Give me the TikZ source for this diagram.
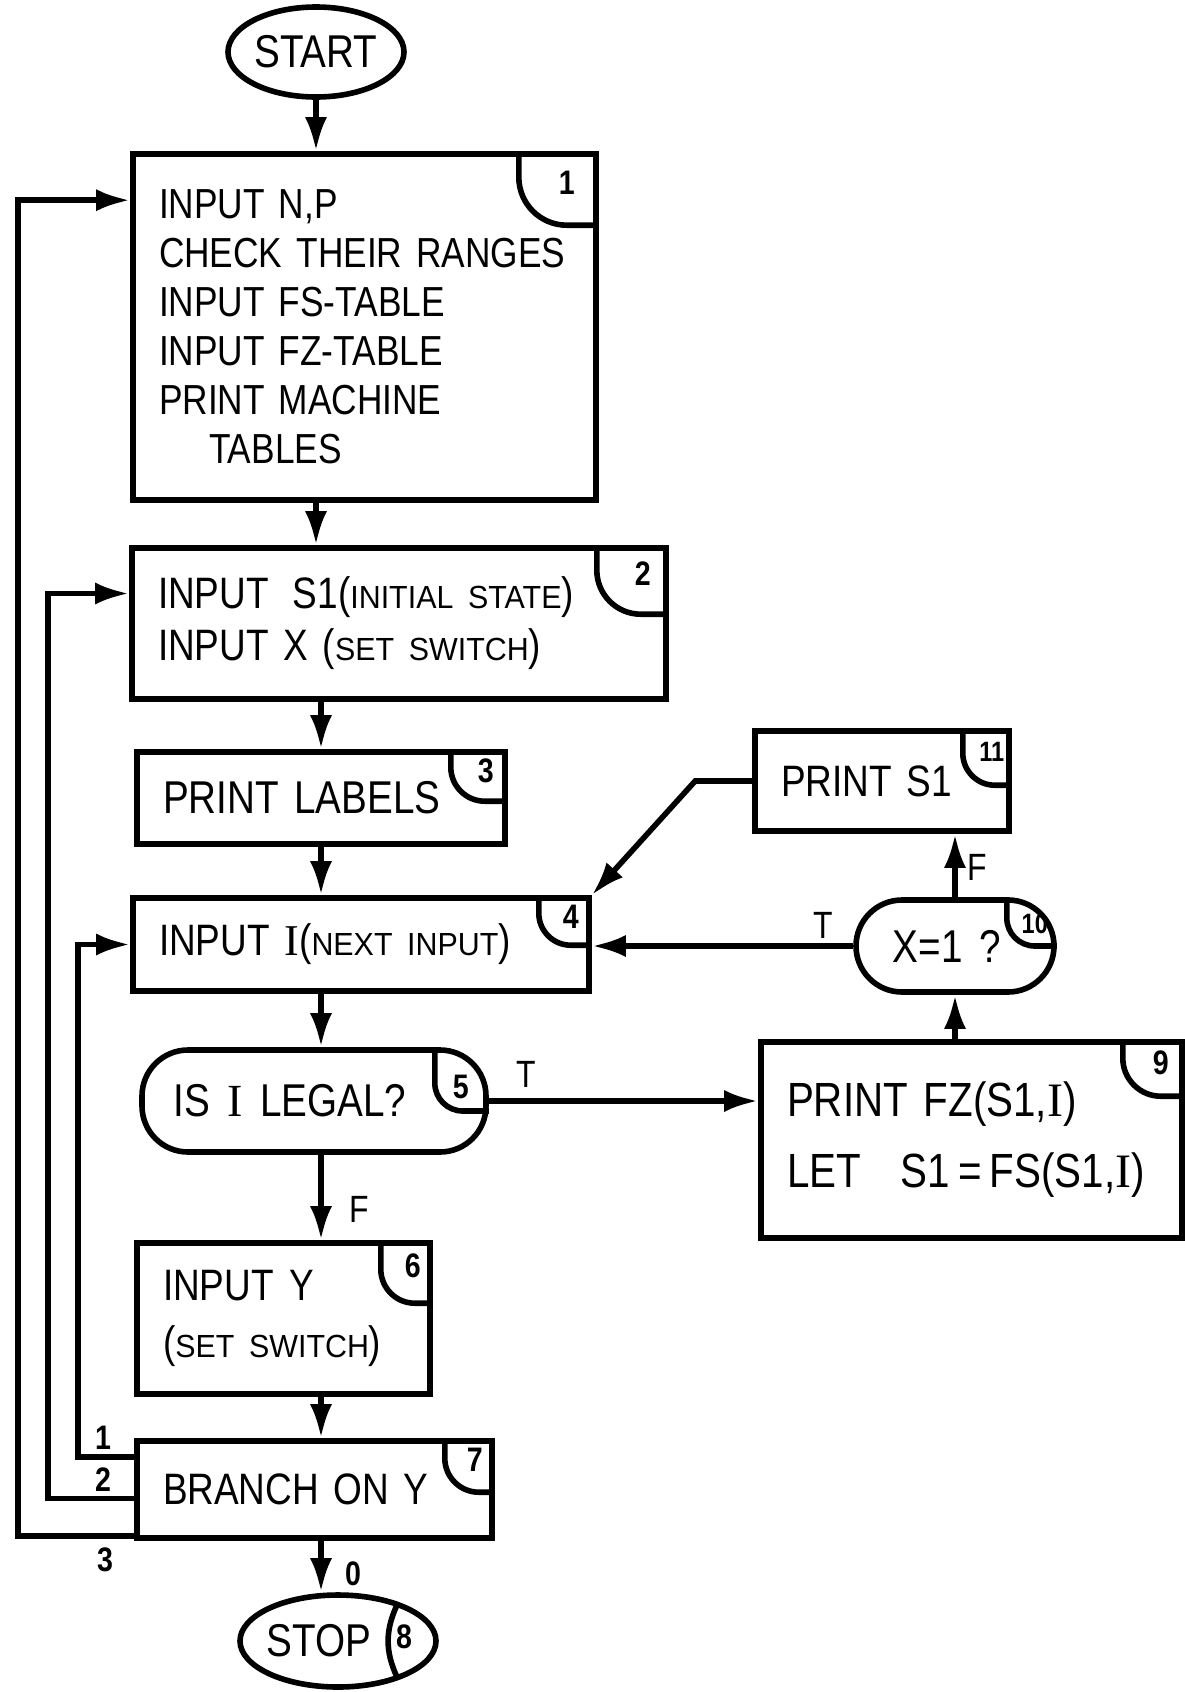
\documentclass[tikz,border=0pt]{standalone}
\usepackage{fontspec}
\setmainfont{Liberation Sans}[FakeStretch=0.84, WordSpace=1.6]
\newfontfamily\varfont{Liberation Serif}
\newfontfamily\lowfont{Liberation Sans}[FakeStretch=0.95, WordSpace=1.6]
\usetikzlibrary{arrows.meta,positioning,shapes.geometric,calc}

\newcommand{\lowcaps}[1]{{\lowfont\fontsize{16pt}{16pt}\selectfont #1}}
\newcommand{\varI}{{\varfont I}}

\begin{document}
\begin{tikzpicture}[x=0.5pt, y=0.5pt,
  procbox/.style={rectangle, draw, line width=2.8pt, align=left,
                  inner xsep=13pt, inner ysep=0pt,
                  font=\fontsize{22pt}{26pt}\selectfont},
  testbox/.style={rectangle, draw, line width=2.8pt, rounded corners=23pt,
                  align=center, inner sep=0pt,
                  font=\fontsize{23pt}{26pt}\selectfont},
  termnode/.style={ellipse, draw, line width=2.8pt, inner sep=0pt,
                   font=\fontsize{23pt}{26pt}\selectfont},
  tagline/.style={line width=2.8pt},
  tagnum/.style={font=\fontsize{17pt}{17pt}\selectfont\bfseries, inner sep=0pt},
  flowlbl/.style={font=\fontsize{19pt}{19pt}\selectfont, inner sep=0pt},
  brlbl/.style={font=\fontsize{17pt}{17pt}\selectfont\bfseries, inner sep=0pt},
  arr/.style={-{Latex[length=17pt,width=11pt]}, line width=2.8pt}
]
\useasboundingbox (0,0) rectangle (1184,-1692);

% Main column
\node[termnode, minimum width=88pt, minimum height=45pt] (start) at (316,-52) {START};
\node[procbox, text width=205.5pt, minimum height=173pt,
      font=\fontsize{21pt}{24.5pt}\selectfont] (b1) at (364.5,-327)
  {INPUT N,P\\CHECK THEIR RANGES\\INPUT FS-TABLE\\INPUT FZ-TABLE\\PRINT MACHINE\\\hspace*{25pt}TABLES};
\node[procbox, text width=241pt, minimum height=75.5pt] (b2) at (399,-623.5)
  {INPUT\hspace{12pt}S1(\lowcaps{INITIAL STATE})\\INPUT X (\lowcaps{SET SWITCH})};
\node[procbox, text width=158pt, minimum height=46pt,
      font=\fontsize{23pt}{26pt}\selectfont] (b3) at (321,-798) {PRINT LABELS};
\node[procbox, text width=202pt, minimum height=46.5pt] (b4) at (361,-944.5)
  {INPUT \varI(\lowcaps{NEXT INPUT})};
\node[testbox, minimum width=172pt, minimum height=51pt] (d5) at (314,-1101)
  {IS \varI{} LEGAL?\hspace{24pt}};
\node[procbox, text width=120.5pt, minimum height=75.5pt,
      font=\fontsize{22pt}{28.5pt}\selectfont] (b6) at (283.5,-1318.5)
  {INPUT\hspace{8pt}Y\\(\lowcaps{SET SWITCH})};
\node[procbox, text width=151.5pt, minimum height=48.5pt] (b7) at (314.5,-1489.5) {BRANCH ON Y};
\node[termnode, minimum width=98pt, minimum height=46pt] (stop) at (338,-1641)
  {\makebox[0pt]{STOP\hspace{19pt}}};

% Right column
\node[procbox, text width=184.5pt, minimum height=98pt,
      font=\fontsize{24pt}{35.5pt}\selectfont] (b9) at (971.5,-1140)
  {PRINT FZ(S1,\varI)\\LET\hspace{20pt}S1\,=\,FS(S1,\varI)\\[4pt]};
\node[testbox, minimum width=99pt, minimum height=46pt] (d10) at (955,-946) {X=1 ?\hspace{8pt}};
\node[procbox, text width=101pt, minimum height=50pt] (b11) at (882,-781) {PRINT S1};

% Corner tags
\draw[tagline, rounded corners=24pt] ([xshift=-40pt]b1.north east) |- ([yshift=-37pt]b1.north east);
\node[tagnum] (t1) at ([xshift=-16pt,yshift=-16pt]b1.north east) {1};
\draw[tagline, rounded corners=22pt] ([xshift=-36pt]b2.north east) |- ([yshift=-34.5pt]b2.north east);
\node[tagnum] (t2) at ([xshift=-13pt,yshift=-14pt]b2.north east) {2};
\draw[tagline, rounded corners=17pt] ([xshift=-28.5pt]b3.north east) |- ([yshift=-26pt]b3.north east);
\node[tagnum] (t3) at ([xshift=-11pt,yshift=-11pt]b3.north east) {3};
\draw[tagline, rounded corners=16pt] ([xshift=-26.5pt]b4.north east) |- ([yshift=-25pt]b4.north east);
\node[tagnum] (t4) at ([xshift=-10.5pt,yshift=-11pt]b4.north east) {4};
\draw[tagline, rounded corners=14pt] ([xshift=-27pt]d5.north east) |- ([yshift=-5pt]d5.east);
\node[tagnum] (t5) at ([xshift=-14pt,yshift=7pt]d5.east) {5};
\draw[tagline, rounded corners=17pt] ([xshift=-26pt]b6.north east) |- ([yshift=-31.5pt]b6.north east);
\node[tagnum] (t6) at ([xshift=-10pt,yshift=-13pt]b6.north east) {6};
\draw[tagline, rounded corners=17pt] ([xshift=-25pt]b7.north east) |- ([yshift=-27pt]b7.north east);
\node[tagnum] (t7) at ([xshift=-10pt,yshift=-11pt]b7.north east) {7};
\draw[tagline] ([xshift=29.5pt,yshift=18pt]stop.center) to[out=-115,in=115] ([xshift=29.5pt,yshift=-18pt]stop.center);
\node[tagnum] (t8) at ([xshift=33pt,yshift=2pt]stop.center) {8};
\draw[tagline, rounded corners=19pt] ([xshift=-31pt]b9.north east) |- ([yshift=-28.5pt]b9.north east);
\node[tagnum] (t9) at ([xshift=-12pt,yshift=-12pt]b9.north east) {9};
\draw[tagline, rounded corners=14pt] ([xshift=-25pt]d10.north east) |- (d10.east);
\node[tagnum, font=\fontsize{14pt}{14pt}\selectfont\bfseries] (t10) at ([xshift=-11pt,yshift=11pt]d10.east) {10};
\draw[tagline, rounded corners=16pt] ([xshift=-24.5pt]b11.north east) |- ([yshift=-28.5pt]b11.north east);
\node[tagnum, font=\fontsize{14pt}{14pt}\selectfont\bfseries] (t11) at ([xshift=-10pt,yshift=-12pt]b11.north east) {11};

% Main flow
\coordinate (spine) at (321,-800);
\draw[arr] (start.south) -- (start.south |- b1.north);
\draw[arr] (b1.south -| start) -- (b2.north -| start);
\draw[arr] (b2.south -| spine) -- (b3.north -| spine);
\draw[arr] (b3.south -| spine) -- (b4.north -| spine);
\draw[arr] (b4.south -| spine) -- (d5.north -| spine);
\draw[arr] (d5.south -| spine) -- (b6.north -| spine);
\draw[arr] (b6.south -| spine) -- (b7.north -| spine);
\draw[arr] (b7.south -| spine) -- (stop.north -| spine);

% Branches
\draw[arr] (d5.east) -- (d5.east -| b9.west);
\draw[arr] (d10.south |- b9.north) -- (d10.south);
\draw[arr] (d10.north) -- (d10.north |- b11.south);
\draw[arr] (d10.west) -- (d10.west -| b4.east);
\draw[arr] (b11.west) -- ++(-57,0) -- (b4.north east);

% Loops back from 7
\draw[arr] ([yshift=-9.5pt]b7.north west) -- ++(-56,0) |- (b4.west);
\draw[arr] ([yshift=-4.5pt]b7.west) -- ++(-86,0) |- ([yshift=15pt]b2.west);
\draw[arr] ([yshift=2.5pt]b7.south west) -- ++(-116,0) |- ([yshift=-24.5pt]b1.north west);

% Labels
\node[flowlbl] (lt5) at (526,-1074) {T};
\node[flowlbl] (lf5) at (359,-1209) {F};
\node[flowlbl] (lt10) at (823,-925) {T};
\node[flowlbl] (lf10) at (977,-867) {F};
\node[brlbl] (l0) at (353,-1574) {0};
\node[brlbl] (l1) at (103,-1438) {1};
\node[brlbl] (l2) at (103,-1480) {2};
\node[brlbl] (l3) at (105,-1560) {3};
\end{tikzpicture}
\end{document}
